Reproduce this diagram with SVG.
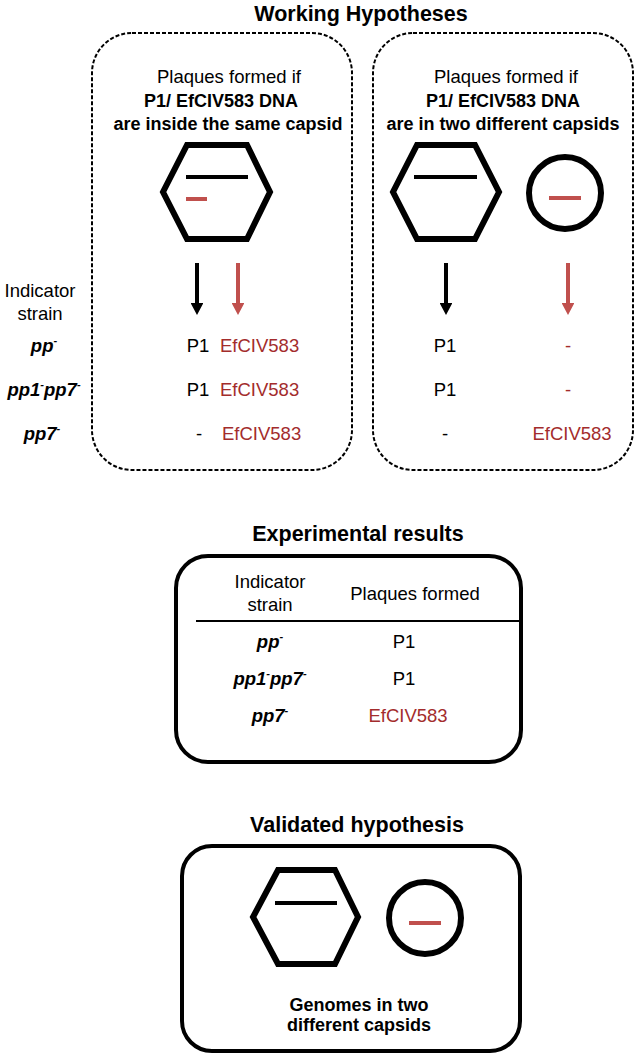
<svg xmlns="http://www.w3.org/2000/svg" width="640" height="1062" viewBox="0 0 640 1062">
<style>
text{font-family:"Liberation Sans",Arial,sans-serif;fill:#000}
.title{font-size:21.5px;font-weight:bold;text-anchor:middle}
.t{font-size:18.5px;text-anchor:middle}
.b{font-size:18px;font-weight:bold;text-anchor:middle}
.bi{font-size:18.5px;font-weight:bold;font-style:italic;text-anchor:middle}
.red{fill:#a32c2c}
.sup{font-size:11px}
.dash{fill:none;stroke:#000;stroke-width:2;stroke-dasharray:4 2}
.solid{fill:none;stroke:#000;stroke-width:4}
.hex{fill:none;stroke:#000;stroke-width:6;stroke-linejoin:miter}
.circ{fill:none;stroke:#000;stroke-width:6}
.gk{stroke:#000;stroke-width:4}
.gr{stroke:#c0504d;stroke-width:4}
</style>
<defs>
<marker id="ahk" markerWidth="3.2" markerHeight="3.2" refX="0" refY="1.6" orient="auto" markerUnits="strokeWidth"><path d="M0,0 L3,1.6 L0,3.2 z" fill="#000"/></marker>
<marker id="ahr" markerWidth="3.2" markerHeight="3.2" refX="0" refY="1.6" orient="auto" markerUnits="strokeWidth"><path d="M0,0 L3,1.6 L0,3.2 z" fill="#c0504d"/></marker>
</defs>

<text class="title" x="361" y="21">Working Hypotheses</text>

<g id="hyp-same">
<rect class="dash" x="92" y="33" width="260" height="437" rx="40"/>
<text class="t" x="229" y="83">Plaques formed if</text>
<text class="b" x="221" y="107">P1/ EfCIV583 DNA</text>
<text class="b" x="228" y="130">are inside the same capsid</text>
<polygon class="hex" points="187,145 247,145 270,192 247,239 187,239 163,192"/>
<line class="gk" x1="186" y1="177" x2="248" y2="177"/>
<line class="gr" x1="186" y1="199" x2="207" y2="199"/>
<text class="t" x="198" y="352">P1</text>
<text class="t red" x="220" y="352" style="text-anchor:start">EfCIV583</text>
<text class="t" x="198" y="396">P1</text>
<text class="t red" x="220" y="396" style="text-anchor:start">EfCIV583</text>
<text class="t" x="199" y="440">-</text>
<text class="t red" x="222" y="440" style="text-anchor:start">EfCIV583</text>
</g>

<g id="hyp-different">
<rect class="dash" x="373" y="33" width="260" height="437" rx="40"/>
<text class="t" x="506" y="83">Plaques formed if</text>
<text class="b" x="503" y="107">P1/ EfCIV583 DNA</text>
<text class="b" x="503" y="130">are in two different capsids</text>
<polygon class="hex" points="417,145 475,145 499,192 475,239 417,239 393,192"/>
<line class="gk" x1="414" y1="177" x2="477" y2="177"/>
<circle class="circ" cx="565" cy="193" r="36"/>
<line class="gr" x1="549" y1="198" x2="581" y2="198"/>
<text class="t" x="445" y="352">P1</text>
<text class="t red" x="568" y="352">-</text>
<text class="t" x="445" y="396">P1</text>
<text class="t red" x="568" y="396">-</text>
<text class="t" x="445" y="440">-</text>
<text class="t red" x="572" y="440">EfCIV583</text>
</g>

<g id="strain-labels">
<text class="t" x="40" y="297">Indicator</text>
<text class="t" x="40" y="320">strain</text>
<text class="bi" x="44" y="352">pp<tspan class="sup" dy="-8">-</tspan></text>
<text class="bi" x="44" y="396">pp1<tspan class="sup" dy="-8">-</tspan><tspan dy="8">pp7</tspan><tspan class="sup" dy="-8">-</tspan></text>
<text class="bi" x="42" y="440">pp7<tspan class="sup" dy="-8">-</tspan></text>
</g>

<g id="connectors">
<line class="gk" x1="197" y1="263" x2="197" y2="303" marker-end="url(#ahk)"/>
<line class="gr" x1="238" y1="263" x2="238" y2="303" marker-end="url(#ahr)"/>
<line class="gk" x1="446" y1="263" x2="446" y2="303" marker-end="url(#ahk)"/>
<line class="gr" x1="568" y1="263" x2="568" y2="303" marker-end="url(#ahr)"/>
</g>

<text class="title" x="358" y="541">Experimental results</text>
<g id="results">
<rect class="solid" x="176" y="556" width="345" height="206" rx="32"/>
<text class="t" x="270" y="588">Indicator</text>
<text class="t" x="270" y="611">strain</text>
<text class="t" x="415" y="600">Plaques formed</text>
<line x1="196" y1="621" x2="519" y2="621" stroke="#000" stroke-width="2"/>
<text class="bi" x="270" y="648">pp<tspan class="sup" dy="-8">-</tspan></text>
<text class="bi" x="270" y="685">pp1<tspan class="sup" dy="-8">-</tspan><tspan dy="8">pp7</tspan><tspan class="sup" dy="-8">-</tspan></text>
<text class="bi" x="270" y="722">pp7<tspan class="sup" dy="-8">-</tspan></text>
<text class="t" x="404" y="648">P1</text>
<text class="t" x="404" y="685">P1</text>
<text class="t red" x="408" y="722">EfCIV583</text>
</g>

<text class="title" x="357" y="832">Validated hypothesis</text>
<g id="validated">
<rect class="solid" x="182" y="846" width="338" height="205" rx="30"/>
<polygon class="hex" points="278,870 335,870 358,917 335,964 278,964 253,917"/>
<line class="gk" x1="275" y1="903" x2="337" y2="903"/>
<circle class="circ" cx="425" cy="918" r="36"/>
<line class="gr" x1="409" y1="923" x2="441" y2="923"/>
<text class="b" x="359" y="1011">Genomes in two</text>
<text class="b" x="359" y="1031">different capsids</text>
</g>
</svg>
